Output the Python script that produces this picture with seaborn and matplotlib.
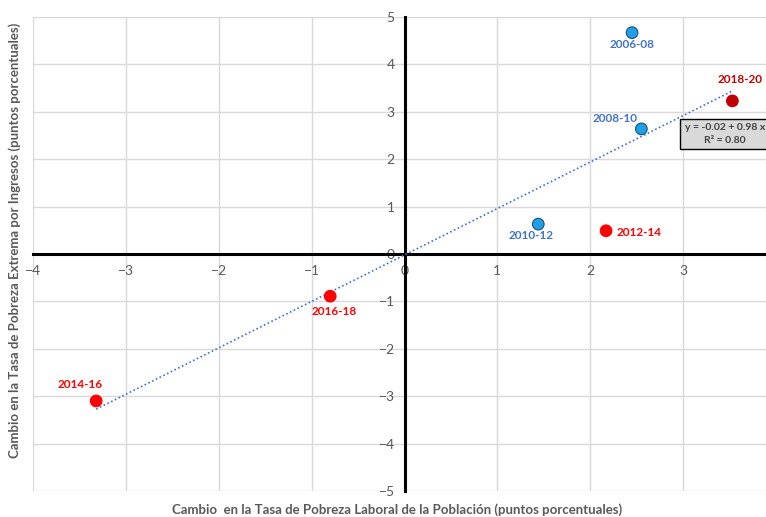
import matplotlib
matplotlib.use("Agg")
import matplotlib.pyplot as plt
import seaborn as sns
import numpy as np
import pandas as pd

# Changes in poverty rates by period (percentage points)
periods = ["2006-08", "2008-10", "2010-12", "2012-14", "2014-16", "2016-18", "2018-20"]
labor_poverty_change = [2.45, 2.55, 1.44, 2.17, -3.32, -0.80, 3.53]
extreme_poverty_change = [4.67, 2.64, 0.63, 0.49, -3.10, -0.89, 3.23]
groups = ["a", "a", "a", "b", "b", "b", "c"]

# Linear trend reported on the chart
intercept, slope, r2 = -0.02, 0.98, 0.80

x_ticks = [-4, -3, -2, -1, 0, 1, 2, 3]
y_ticks = [-5, -4, -3, -2, -1, 0, 1, 2, 3, 4, 5]

df = pd.DataFrame({"periodo": periods, "x": labor_poverty_change,
                   "y": extreme_poverty_change, "grupo": groups})

sns.set_theme(style="white")
plt.rcParams["font.family"] = ["Lato", "DejaVu Sans"]

fill = {"a": "#1FA0E6", "b": "#FF0000", "c": "#C00000"}
edge = {"a": "#1F4E79", "b": "#FF0000", "c": "#C00000"}
text_col = {"a": "#4472C4", "b": "#FF0000", "c": "#C00000"}

fig = plt.figure(figsize=(7.66, 5.17), dpi=100)
ax = fig.add_axes([33 / 766, 1 - 491 / 517, 1 - 33 / 766, (491 - 17) / 517])

ax.set_xlim(-4, 3.892)
ax.set_ylim(-5, 5)
ax.set_xticks(x_ticks)
ax.set_yticks(y_ticks)
ax.grid(True, color="#D9D9D9", linewidth=1.0)
ax.set_axisbelow(True)

for s in ["top", "right"]:
    ax.spines[s].set_visible(False)
ax.spines["left"].set_position(("data", 0))
ax.spines["bottom"].set_position(("data", 0))
for s in ["left", "bottom"]:
    ax.spines[s].set_color("black")
    ax.spines[s].set_linewidth(2.2)
    ax.spines[s].set_zorder(1.5)
ax.tick_params(axis="both", length=0, labelsize=10, labelcolor="#595959")
ax.tick_params(axis="x", pad=8)
ax.tick_params(axis="y", pad=7)

# Trend line
xs = np.array([min(labor_poverty_change), max(labor_poverty_change)])
ax.plot(xs, intercept + slope * xs, linestyle=(0, (1, 1.5)), color="#4472C4",
        linewidth=1.2, zorder=2)

sns.scatterplot(data=df, x="x", y="y", hue="grupo", palette=fill, s=70,
                edgecolor=[edge[g] for g in groups], linewidth=0.8,
                legend=False, ax=ax, zorder=3)

offsets = {
    "2006-08": (0, -12, "center", "center"),
    "2008-10": (-26, 10, "center", "center"),
    "2010-12": (-7, -11, "center", "center"),
    "2012-14": (10, -2, "left", "center"),
    "2014-16": (-16, 16, "center", "center"),
    "2016-18": (4, -15, "center", "center"),
    "2018-20": (8, 21, "center", "center"),
}
for p, xv, yv, g in zip(periods, labor_poverty_change, extreme_poverty_change, groups):
    dx, dy, ha, va = offsets[p]
    ax.annotate(p, (xv, yv), xytext=(dx, dy), textcoords="offset pixels",
                ha=ha, va=va, fontsize=8.5, fontweight="bold", color=text_col[g])

ax.text(725 / 766, 1 - 134 / 517,
        f"y = {intercept:.2f} + {slope:.2f} x\nR² = {r2:.2f}",
        transform=fig.transFigure, ha="center", va="center", fontsize=7.5,
        fontweight="bold", color="#404040", linespacing=1.5,
        bbox=dict(boxstyle="square,pad=0.45", facecolor="#D9D9D9",
                  edgecolor="black", linewidth=1.0))

ax.set_xlabel("")
ax.set_ylabel("")
fig.text(397 / 766, 1 - 510 / 517,
         "Cambio  en la Tasa de Pobreza Laboral de la Población (puntos porcentuales)",
         ha="center", va="center", fontsize=9.5, fontweight="bold", color="#595959")
fig.text(15 / 766, 1 - 240 / 517,
         "Cambio en la Tasa de Pobreza Extrema por Ingresos (puntos porcentuales)",
         ha="center", va="center", rotation=90, fontsize=9.5, fontweight="bold",
         color="#595959")

fig.savefig("out.png", dpi=100)
